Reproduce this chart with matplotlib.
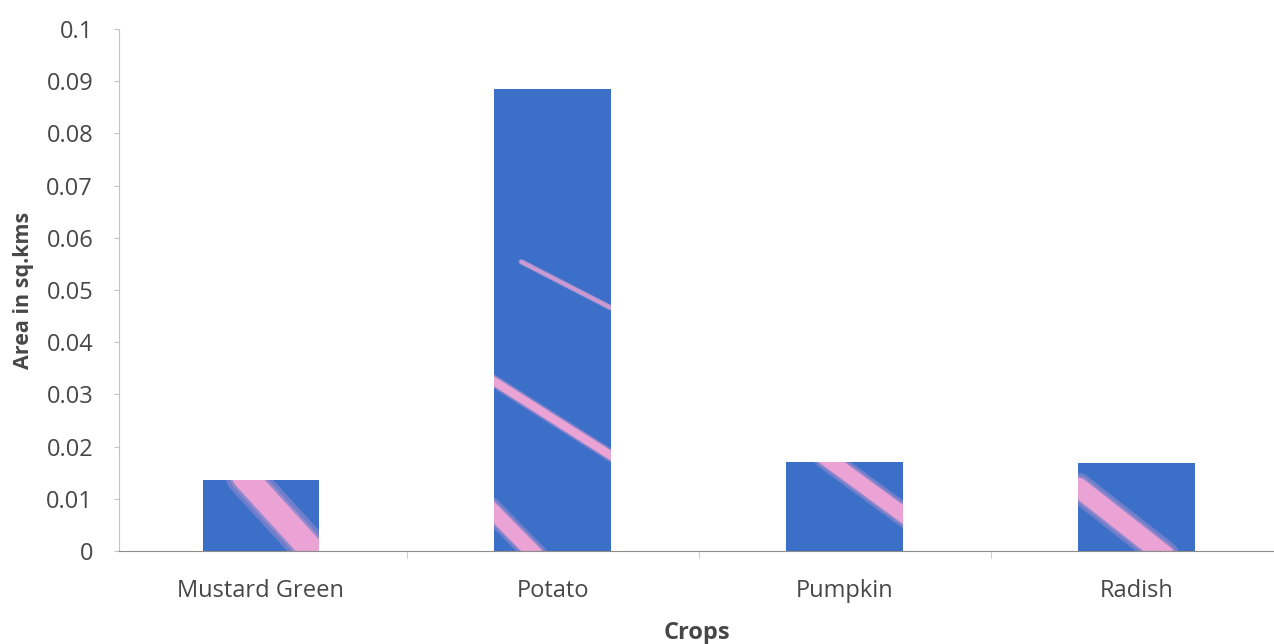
import matplotlib
matplotlib.use('Agg')
import matplotlib.pyplot as plt

# Площадь под культурами
crops = ['Mustard Green', 'Potato', 'Pumpkin', 'Radish']
area = [0.0136, 0.0885, 0.0171, 0.0169]

y_ticks = [0, 0.01, 0.02, 0.03, 0.04, 0.05, 0.06, 0.07, 0.08, 0.09, 0.1]
y_tick_labels = ['0', '0.01', '0.02', '0.03', '0.04', '0.05', '0.06', '0.07', '0.08', '0.09', '0.1']

# Розовые полосы на столбцах (индекс столбца, u0, v0, u1, v1, толщина, прозрачность)
# u, v - доли ширины и высоты столбца
streaks = [
    (0, 0.36, 1.05, 0.97, -0.05, 18, 1.0),
    (1, 0.23, 0.626, 1.0, 0.526, 3, 0.7),
    (1, -0.02, 0.37, 1.02, 0.203, 6, 1.0),
    (1, -0.05, 0.095, 0.36, -0.01, 11, 1.0),
    (2, 0.33, 1.05, 1.05, 0.36, 11, 1.0),
    (3, 0.0, 0.72, 0.74, -0.05, 14, 1.0),
]

plt.rcParams['font.family'] = ['Open Sans', 'DejaVu Sans']
text_color = '#474747'
bar_color = '#3b6fc8'
pink = '#eaa3d4'

fig = plt.figure(figsize=(12.74, 6.44), dpi=100)
ax = fig.add_axes([119 / 1274, 1 - 551 / 644, 1 - 119 / 1274, 522 / 644])

bars = ax.bar(range(len(crops)), area, width=0.40, color=bar_color, zorder=2)

for i, u0, v0, u1, v1, lw, a in streaks:
    p = bars[i]
    x0, w = p.get_x(), p.get_width()
    h = p.get_height()
    # мягкий край: несколько слоёв разной толщины
    for k, f in enumerate([1.5, 1.2, 1.0]):
        ln, = ax.plot([x0 + u0 * w, x0 + u1 * w], [v0 * h, v1 * h], color=pink,
                      lw=lw * f, alpha=a * (0.3 if k < 2 else 1.0),
                      solid_capstyle='round', zorder=3)
        ln.set_clip_path(p)

ax.set_xlim(-0.486, 3.47)
ax.set_ylim(0, 0.1)
ax.set_yticks(y_ticks)
ax.set_yticklabels(y_tick_labels)
ax.set_xticks(range(len(crops)))
ax.set_xticklabels(crops)
ax.set_xticks([0.5, 1.5, 2.5], minor=True)

for s in ['top', 'right']:
    ax.spines[s].set_visible(False)
ax.spines['left'].set_color('#c4c4c4')
ax.spines['bottom'].set_color('#8c8c8c')
ax.spines['bottom'].set_zorder(4)

ax.tick_params(axis='y', length=3.6, color='#c4c4c4', labelsize=17,
               labelcolor=text_color, pad=15)
ax.tick_params(axis='x', which='major', length=0, labelsize=17,
               labelcolor=text_color, pad=20)
ax.tick_params(axis='x', which='minor', length=5, color='#c4c4c4')

ax.set_ylabel('Area in sq.kms', fontsize=15.5, fontweight='bold',
              color=text_color, labelpad=9)
ax.set_xlabel('Crops', fontsize=17, fontweight='bold', color=text_color,
              labelpad=13)

fig.savefig('out.png', dpi=100)
